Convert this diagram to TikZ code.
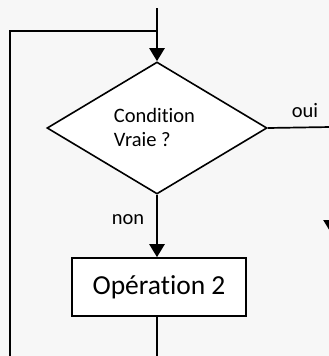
\documentclass[tikz,border=0pt]{standalone}
\usepackage{fontspec}
\setmainfont{Carlito}[Ligatures=NoCommon]
\usetikzlibrary{shapes.geometric,arrows.meta}
\definecolor{pagebg}{RGB}{247,247,247}
\begin{document}
\begin{tikzpicture}[x=1pt,y=-1pt,
  flow/.style={line width=1.7pt},
  flowarrow/.style={line width=2.4pt,-{Triangle[width=15pt,length=13pt]}},
  decision/.style={diamond,draw,line width=1.6pt,fill=white,inner sep=0pt,
    minimum width=220pt,minimum height=132pt},
  condtext/.style={align=left,inner sep=0pt,
    font=\fontsize{20.5}{24}\selectfont},
  opbox/.style={rectangle,draw,line width=1.6pt,fill=white,
    minimum width=174pt,minimum height=58pt,
    font=\fontsize{27.5}{30}\selectfont},
  branch/.style={font=\fontsize{20.5}{24}\selectfont,inner sep=0pt}]
  % page
  \fill[pagebg] (0,0) rectangle (329,356);
  \useasboundingbox (0,0) rectangle (329,356);
  \clip (0,0) rectangle (329,356);

  % nodes
  \node[decision] (cond) at (157,128) {};
  \node[condtext] (condlbl) at (154.5,127.5) {Condition\\Vraie ?};
  \node[opbox] (op2) at (159,287) {Opération 2};
  \coordinate (entry) at (157,8);
  \coordinate (join) at (157,31);
  \coordinate (loopTop) at (10,31);
  \coordinate (loopBot) at (10,360);
  \coordinate (exit) at (157,360);
  \coordinate (ouiCorner) at (331,127);
  \coordinate (ouiEnd) at (331,233);

  % entry and loop back
  \draw[flowarrow] (entry) -- (cond.north);
  \draw[flow] (loopBot) -- (loopTop) -- (join);
  % non branch
  \draw[flowarrow] (cond.south) -- (cond.south |- op2.north);
  \draw[flow] (cond.south |- op2.south) -- (exit);
  % oui branch
  \draw[flow] (cond.east) -- (ouiCorner);
  \draw[flowarrow] (ouiCorner) -- (ouiEnd);

  % labels
  \node[branch,anchor=base] (oui) at (305,117) {oui};
  \node[branch,anchor=base] (non) at (128,224) {non};
\end{tikzpicture}
\end{document}
